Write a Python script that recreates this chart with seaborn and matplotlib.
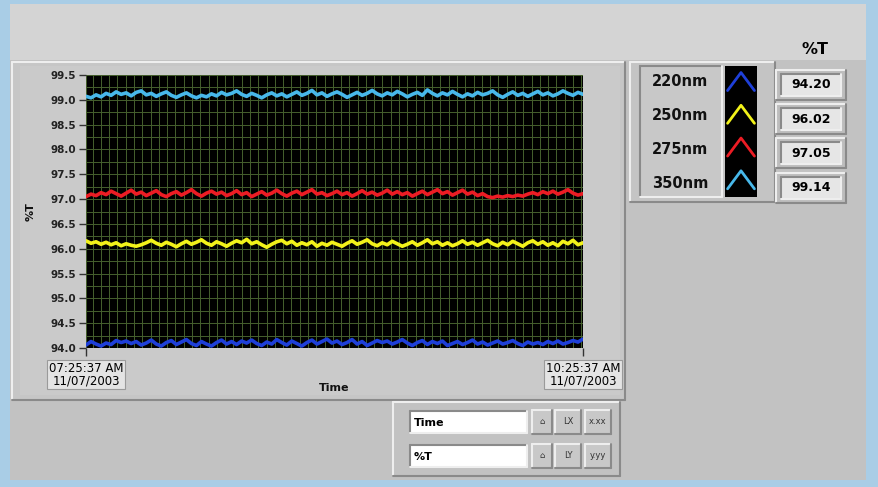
import numpy as np
import pandas as pd
import matplotlib
matplotlib.use("Agg")
import matplotlib.pyplot as plt
import matplotlib.dates as mdates
from matplotlib.patches import Rectangle
from matplotlib.lines import Line2D
import seaborn as sns

# ---------------- data ----------------
series_names = ["220nm", "250nm", "275nm", "350nm"]
series_colors = ["#1E3FD8", "#F2F21A", "#EC1C24", "#48B8EA"]
current_values = ["94.20", "96.02", "97.05", "99.14"]
start_time = "2003-11-07 07:25:37"
end_time = "2003-11-07 10:25:37"
start_label = "07:25:37 AM\n11/07/2003"
end_label = "10:25:37 AM\n11/07/2003"
y_ticks = [94.0, 94.5, 95.0, 95.5, 96.0, 96.5, 97.0, 97.5, 98.0, 98.5, 99.0, 99.5]

t350 = [99.07,99.04,99.10,99.06,99.13,99.09,99.16,99.11,99.14,99.08,
        99.15,99.18,99.10,99.13,99.07,99.12,99.16,99.09,99.05,99.10,
        99.14,99.08,99.04,99.09,99.06,99.12,99.08,99.15,99.10,99.13,
        99.18,99.11,99.07,99.13,99.09,99.04,99.10,99.14,99.08,99.12,
        99.06,99.11,99.16,99.09,99.13,99.19,99.10,99.14,99.07,99.12,
        99.16,99.11,99.05,99.10,99.15,99.09,99.13,99.19,99.12,99.08,
        99.14,99.10,99.17,99.12,99.06,99.11,99.15,99.09,99.20,99.13,
        99.08,99.14,99.10,99.17,99.11,99.06,99.12,99.08,99.15,99.10,
        99.13,99.18,99.10,99.05,99.11,99.16,99.09,99.13,99.07,99.12,
        99.17,99.10,99.14,99.08,99.12,99.18,99.13,99.09,99.15,99.11]
t275 = [97.05,97.10,97.07,97.13,97.09,97.16,97.11,97.06,97.12,97.18,
        97.10,97.14,97.07,97.12,97.17,97.09,97.05,97.11,97.15,97.08,
        97.13,97.19,97.11,97.06,97.12,97.16,97.10,97.14,97.07,97.11,
        97.17,97.09,97.13,97.05,97.10,97.15,97.08,97.12,97.18,97.11,
        97.06,97.12,97.16,97.09,97.14,97.19,97.10,97.13,97.07,97.11,
        97.16,97.09,97.13,97.06,97.11,97.17,97.10,97.14,97.08,97.12,
        97.18,97.10,97.15,97.09,97.13,97.06,97.11,97.16,97.09,97.14,
        97.19,97.11,97.15,97.08,97.13,97.18,97.10,97.14,97.07,97.11,
        97.05,97.03,97.06,97.04,97.07,97.05,97.08,97.06,97.10,97.13,
        97.09,97.15,97.11,97.16,97.10,97.14,97.19,97.12,97.08,97.11]
t250 = [96.16,96.11,96.14,96.09,96.13,96.08,96.12,96.06,96.10,96.07,
        96.05,96.08,96.12,96.17,96.11,96.07,96.13,96.09,96.04,96.10,
        96.15,96.09,96.13,96.18,96.11,96.07,96.14,96.10,96.05,96.11,
        96.16,96.12,96.19,96.10,96.14,96.08,96.03,96.09,96.14,96.17,
        96.10,96.15,96.07,96.12,96.08,96.14,96.05,96.11,96.07,96.13,
        96.09,96.05,96.11,96.16,96.09,96.13,96.18,96.10,96.06,96.12,
        96.08,96.15,96.10,96.05,96.09,96.14,96.07,96.12,96.18,96.10,
        96.14,96.07,96.12,96.06,96.10,96.16,96.09,96.13,96.07,96.12,
        96.17,96.10,96.06,96.13,96.08,96.15,96.10,96.05,96.12,96.16,
        96.09,96.14,96.07,96.12,96.06,96.15,96.10,96.17,96.08,96.12]
t220 = [94.06,94.13,94.08,94.04,94.10,94.07,94.15,94.11,94.14,94.09,
        94.13,94.06,94.10,94.16,94.08,94.04,94.11,94.15,94.07,94.12,
        94.17,94.09,94.05,94.13,94.08,94.04,94.11,94.16,94.08,94.13,
        94.07,94.14,94.10,94.16,94.09,94.05,94.12,94.08,94.17,94.11,
        94.06,94.14,94.09,94.04,94.11,94.16,94.08,94.13,94.18,94.10,
        94.14,94.07,94.11,94.17,94.08,94.13,94.05,94.10,94.15,94.11,
        94.14,94.08,94.12,94.17,94.10,94.05,94.11,94.15,94.07,94.13,
        94.09,94.14,94.05,94.09,94.13,94.07,94.11,94.16,94.08,94.12,
        94.06,94.10,94.14,94.08,94.11,94.15,94.09,94.05,94.12,94.08,
        94.11,94.07,94.13,94.09,94.14,94.08,94.11,94.15,94.12,94.18]

times = pd.date_range(start_time, end_time, periods=len(t220))
df = pd.concat([
    pd.DataFrame({"Time": times, "%T": v, "wl": n})
    for n, v in zip(series_names, [t220, t250, t275, t350])
])

# ---------------- figure ----------------
sns.set_theme(style="dark")
plt.rcParams["font.family"] = ["DejaVu Sans"]
W, H = 879, 487
fig = plt.figure(figsize=(W / 100, H / 100), dpi=100)
fig.patch.set_facecolor("#A9CDE6")

def R(x0, y0, x1, y1, fc, ec="none", lw=0, z=0):
    fig.add_artist(Rectangle((x0 / W, 1 - y1 / H), (x1 - x0) / W, (y1 - y0) / H,
                             transform=fig.transFigure, facecolor=fc,
                             edgecolor=ec, linewidth=lw, zorder=z))

def bevel(x0, y0, x1, y1, fc, light="#EEEEEE", dark="#8A8A8A", z=0, sunk=False):
    R(x0, y0, x1, y1, fc, z=z)
    a, b = (dark, light) if sunk else (light, dark)
    for (xa, ya, xb, yb, c) in [(x0, y0, x1, y0, a), (x0, y0, x0, y1, a),
                                (x0, y1, x1, y1, b), (x1, y0, x1, y1, b)]:
        fig.add_artist(Line2D([xa / W, xb / W], [1 - ya / H, 1 - yb / H],
                              transform=fig.transFigure, color=c, lw=1.5, zorder=z + 0.1))

def T(x, y, s, **kw):
    fig.text(x / W, 1 - y / H, s, **kw)

# window background
R(10, 4, 866, 480, "#C2C2C2", z=0)
R(10, 4, 866, 60, "#D4D4D4", z=0.05)
# chart panel
bevel(12, 62, 625, 400, "#C6C6C6", z=0.2)
R(20, 66, 620, 395, "#CACACA", z=0.25)
# legend panel
bevel(630, 62, 775, 202, "#C4C4C4", z=0.2)
bevel(640, 66, 722, 197, "#C8C8C8", z=0.3, sunk=True)
# value boxes
for i, val in enumerate(current_values):
    yc = 85 + i * 34.2
    bevel(776, yc - 15, 846, yc + 15, "#BDBDBD", z=0.3)
    bevel(781, yc - 11, 841, yc + 11, "#E6E6E6", z=0.4, sunk=True)
    T(811, yc, val, ha="center", va="center", fontsize=9, fontweight="bold",
      color="black", zorder=5)
T(815, 50, "%T", ha="center", va="center", fontsize=11.5, fontweight="bold",
  color="black", zorder=5)

# legend chevrons
leg_ax = fig.add_axes([725 / W, 1 - 197 / H, 32 / W, 131 / H])
leg_ax.set_zorder(10)
leg_ax.set_facecolor("black")
leg_ax.set_xlim(0, 1)
leg_ax.set_ylim(0, 4)
leg_ax.set_xticks([])
leg_ax.set_yticks([])
for sp in leg_ax.spines.values():
    sp.set_visible(False)
for i, (n, c) in enumerate(zip(series_names, series_colors)):
    base = 3 - i
    leg_ax.plot([0.08, 0.5, 0.92], [base + 0.25, base + 0.8, base + 0.25], color=c, lw=2)
    T(680, 81 + i * 34.3, n, ha="center", va="center", fontsize=10.5,
      fontweight="bold", color="#111111", zorder=5)

# bottom controls panel
bevel(393, 402, 620, 476, "#C2C2C2", z=0.2)
for j, (lab, yc) in enumerate([("Time", 422), ("%T", 456)]):
    bevel(410, yc - 11, 527, yc + 11, "white", z=0.4, sunk=True)
    T(414, yc + 1, lab, ha="left", va="center", fontsize=8, fontweight="bold",
      color="black", zorder=5)
    for k, (bx0, bx1, s) in enumerate([(532, 552, "\u2302"), (555, 581, "LX" if j == 0 else "LY"),
                                        (585, 611, "x.xx" if j == 0 else "y.yy")]):
        bevel(bx0, yc - 12, bx1, yc + 12, "#C8C8C8", z=0.4)
        T((bx0 + bx1) / 2, yc, s, ha="center", va="center", fontsize=6,
          color="#333333", zorder=5)

# main plot axes
ax = fig.add_axes([86 / W, 1 - 348 / H, 497 / W, 273 / H])
ax.set_zorder(10)
ax.set_facecolor("black")
t0 = pd.Timestamp(start_time)
t1 = pd.Timestamp(end_time)
ax.set_xlim(t0, t1)
ax.set_ylim(94.0, 99.5)

# grid
ax.xaxis.set_minor_locator(mdates.MinuteLocator(byminute=[25, 28, 31, 34, 37, 40, 43, 46, 49, 52, 55, 58, 1, 4, 7, 10, 13, 16, 19, 22]))
ax.set_yticks(np.arange(94.0, 99.51, 0.25), minor=True)
ax.grid(which="minor", color="#46602E", lw=0.7)
ax.grid(which="major", color="#46602E", lw=0.7)

sns.lineplot(data=df, x="Time", y="%T", hue="wl", hue_order=series_names,
             palette=series_colors, lw=2.6, ax=ax, legend=False, zorder=3)

ax.set_yticks(y_ticks)
ax.set_yticklabels([f"{v:.1f}" for v in y_ticks], fontsize=7.5, fontweight="bold",
                   color="#222222")
ax.tick_params(axis="y", which="major", length=5, width=1, color="#333333",
               left=True, pad=2)
ax.tick_params(axis="y", which="minor", length=0)
ax.tick_params(axis="x", which="minor", length=0)
ax.set_xticks([t0, t1])
ax.set_xticklabels([start_label, end_label], fontsize=8.5, color="black",
                   linespacing=0.95)
ax.tick_params(axis="x", which="major", length=6, width=1, color="#333333",
               bottom=True, pad=4)
for lbl in ax.get_xticklabels():
    lbl.set_bbox(dict(facecolor="#E4E4E4", edgecolor="#9A9A9A", boxstyle="square,pad=0.15", lw=0.8))
ax.set_xlabel("Time", fontsize=8, fontweight="bold", color="#111111", labelpad=-3)
ax.set_ylabel("%T", fontsize=8, fontweight="bold", color="#111111", labelpad=11)
for sp in ax.spines.values():
    sp.set_visible(False)

fig.savefig("out.png", dpi=100, facecolor=fig.get_facecolor())
